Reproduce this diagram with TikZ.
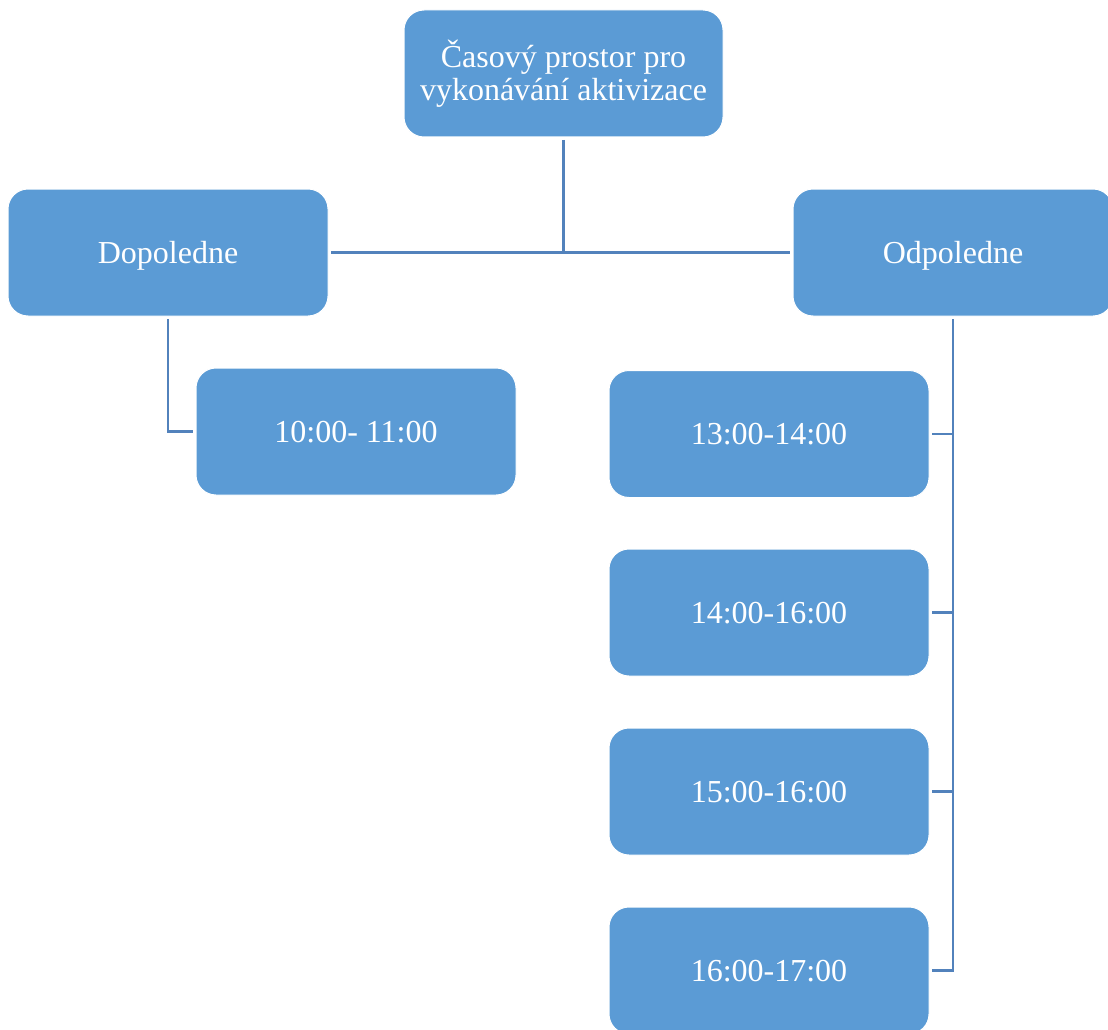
\documentclass[tikz,border=0pt]{standalone}
\usepackage{fontspec}
\setmainfont{Liberation Serif}
\begin{document}
\begin{tikzpicture}[x=1pt,y=-1pt,
  box/.style={rectangle, rounded corners=20pt, fill=boxblue, draw=white, line width=1pt,
    minimum width=320pt, minimum height=127pt, text=white, align=center,
    font=\fontsize{32}{33}\selectfont, inner sep=0pt},
  onebox/.style={box, text depth=0pt},
  conn/.style={draw=lineblue, line width=2.6pt, shorten <=2.5pt, shorten >=2.5pt}]
\definecolor{boxblue}{HTML}{5B9BD5}
\definecolor{lineblue}{HTML}{5282BC}
\useasboundingbox (0,0) rectangle (1108,1030);
\clip (0,0) rectangle (1108,1030);

% hierarchy boxes
\node[box, minimum width=319pt] (top) at (563.5,73.5) {Časový prostor pro\\vykonávání aktivizace};
\node[onebox] (dop) at (168,252.5) {Dopoledne};
\node[onebox] (odp) at (953,252.5) {Odpoledne};
\node[onebox] (t1) at (356,431.5) {10:00- 11:00};
\node[onebox] (t2) at (769,434) {13:00-14:00};
\node[onebox] (t3) at (769,612.5) {14:00-16:00};
\node[onebox] (t4) at (769,791.5) {15:00-16:00};
\node[onebox] (t5) at (769,970.5) {16:00-17:00};

% junction below the root
\coordinate (j) at (top.south |- dop.east);

% connectors
\draw[conn, shorten >=0pt] (top.south) -- (j);
\draw[conn] (dop.east) -- (odp.west);
\draw[conn] (dop.south) |- (t1.west);
\draw[conn] (odp.south) |- (t5.east);
\draw[conn, shorten >=0pt] (t2.east) -- (t2.east -| odp.south);
\draw[conn, shorten >=0pt] (t3.east) -- (t3.east -| odp.south);
\draw[conn, shorten >=0pt] (t4.east) -- (t4.east -| odp.south);
\end{tikzpicture}
\end{document}
